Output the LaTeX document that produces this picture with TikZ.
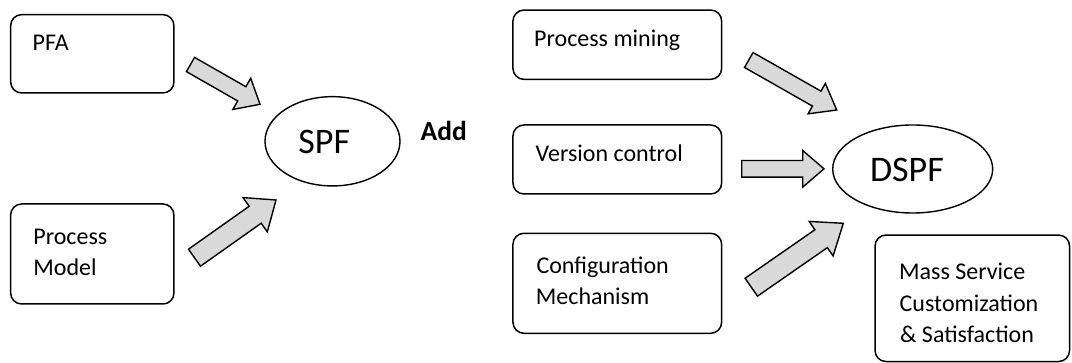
\documentclass[tikz,border=0pt]{standalone}
\usepackage{fontspec}
\setmainfont{Carlito}
\usetikzlibrary{calc,shapes.geometric}
\definecolor{arrowgray}{RGB}{217,217,217}
\tikzset{
  box/.style={draw=black, line width=1.5pt, rounded corners=11pt, inner sep=0pt},
  oval/.style={draw=black, line width=1.4pt, ellipse, inner sep=0pt},
  boxtext/.style={anchor=base west, inner sep=0pt, font=\fontsize{24}{29}\selectfont},
  bigtext/.style={anchor=base west, inner sep=0pt, font=\fontsize{36}{40}\selectfont},
  addtext/.style={anchor=base west, inner sep=0pt, font=\fontsize{27.5}{32}\selectfont\bfseries},
  barrow/.style={draw=black, fill=arrowgray, line width=1.4pt, line join=miter}
}
% #1 tail, #2 tip, #3 shaft half width, #4 head half width, #5 head length, #6 prefix
\newcommand\blockarr[6]{%
  \coordinate (#6b) at ($(#2)!#5pt!(#1)$);
  \draw[barrow] ($(#1)!#3pt!90:(#2)$) -- ($(#6b)!#3pt!90:(#2)$) -- ($(#6b)!#4pt!90:(#2)$)
    -- (#2) -- ($(#6b)!#4pt!-90:(#2)$) -- ($(#6b)!#3pt!-90:(#2)$) -- ($(#1)!#3pt!-90:(#2)$) -- cycle;
}
\begin{document}
\begin{tikzpicture}[x=1pt,y=-1pt]
\useasboundingbox (0,0) rectangle (1072,363);
\fill[white] (0,0) rectangle (1072,363);

% left boxes
\node[box, minimum width=163.3pt, minimum height=78.3pt] (pfa) at (92.3,53.8) {};
\node[boxtext] (pfat) at (32.5,51) {PFA};
\node[box, minimum width=163.3pt, minimum height=100pt] (pm) at (92.3,254) {};
\node[boxtext] (pmt1) at (33.2,244.3) {Process};
\node[boxtext] (pmt2) at (33.2,276) {Model};

% SPF
\node[oval, minimum width=135pt, minimum height=89.3pt] (spf) at (332.5,141.3) {};
\node[bigtext] (spft) at (298.2,154) {SPF};
\node[addtext] (add) at (420.5,141) {Add};

% right boxes
\node[box, minimum width=208.7pt, minimum height=69.3pt] (pmin) at (617.3,44.7) {};
\node[boxtext] (pmint) at (534,46.7) {Process mining};
\node[box, minimum width=208.7pt, minimum height=69pt] (vc) at (617.3,159.5) {};
\node[boxtext] (vct) at (535.5,161.7) {Version control};
\node[box, minimum width=208.7pt, minimum height=100pt] (cm) at (617.3,283.3) {};
\node[boxtext] (cmt1) at (536.3,274) {Configuration};
\node[boxtext] (cmt2) at (535.7,305) {Mechanism};

% DSPF
\node[oval, minimum width=160pt, minimum height=88pt] (dspf) at (912.7,169) {};
\node[bigtext] (dspft) at (869.8,181.7) {DSPF};

% Mass service box
\node[box, minimum width=194.5pt, minimum height=126.5pt] (ms) at (972.3,298.3) {};
\node[boxtext] (mst1) at (898.9,280) {Mass Service};
\node[boxtext] (mst2) at (899.5,311.7) {Customization};
\node[boxtext] (mst3) at (900,343) {\& Satisfaction};

% block arrows
\coordinate (a1t) at (190.5,64.5);  \coordinate (a1h) at (260,104.3);
\coordinate (a2t) at (194.5,257.7); \coordinate (a2h) at (276,200);
\coordinate (a3t) at (748.8,60);    \coordinate (a3h) at (836.7,110);
\coordinate (a4t) at (741.7,168.8); \coordinate (a4h) at (824,168.8);
\coordinate (a5t) at (751.3,287.2); \coordinate (a5h) at (843.3,223.3);
\blockarr{a1t}{a1h}{8.2}{18}{21}{a1}
\blockarr{a2t}{a2h}{10.4}{21}{25.5}{a2}
\blockarr{a3t}{a3h}{8.6}{17.5}{23}{a3}
\blockarr{a4t}{a4h}{8.3}{18.3}{21.3}{a4}
\blockarr{a5t}{a5h}{10.9}{21}{27}{a5}
\end{tikzpicture}
\end{document}
